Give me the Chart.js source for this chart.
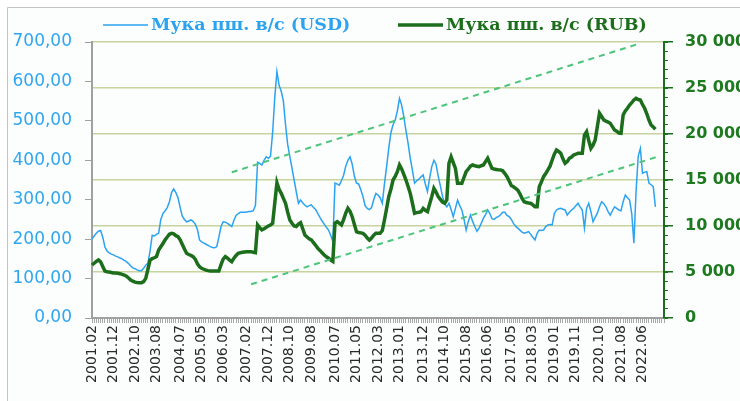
<!DOCTYPE html>
<html>
<head>
<meta charset="utf-8">
<script src="https://cdn.jsdelivr.net/npm/chart.js@4.4.1/dist/chart.umd.min.js"></script>
<style>
  html, body { margin: 0; padding: 0; background: #fff; }
  #wrap { width: 740px; height: 401px; }
</style>
</head>
<body>
<div id="wrap"><canvas id="flourChart" width="740" height="401"></canvas></div>
<script>
// monthly series, first point 2001.02
const startYear = 2001;
const startMonth = 2;
const monthCount = 267; // axis runs to 2023.04

const tickLabels = ["2001.02", "2001.12", "2002.10", "2003.08", "2004.07", "2005.05", "2006.03",
  "2007.02", "2007.12", "2008.10", "2009.08", "2010.07", "2011.05", "2012.03", "2013.01",
  "2013.12", "2014.10", "2015.08", "2016.06", "2017.05", "2018.03", "2019.01", "2019.11",
  "2020.10", "2021.08", "2022.06"];

const usdPrices = [
  200, 208, 215, 220, 222, 205, 180, 170, 165, 162, 160,
  157, 155, 152, 150, 146, 143, 138, 132, 127, 125, 122, 120,
  120, 126, 134, 139, 170, 210, 208, 212, 215, 250, 265, 272,
  280, 295, 318, 327, 318, 305, 280, 258, 250, 244, 246, 249,
  245, 238, 225, 198, 193, 190, 187, 184, 181, 179, 178, 181,
  205, 232, 244, 243, 240, 236, 232, 248, 260, 265, 268, 268,
  268, 269, 270, 270, 272, 285, 395, 392, 388, 400, 409, 405,
  410, 470, 560, 625, 590, 575, 550, 490, 440, 409, 380, 350,
  320, 291, 299, 292, 286, 282, 285, 287, 280, 275, 265, 255,
  246, 238, 230, 223, 210, 194, 342, 340, 337, 348, 362, 385,
  400, 409, 390, 360, 342, 340, 325, 308, 285, 278, 275, 280,
  300, 316, 312, 305, 291, 340, 384, 430, 470, 490, 502, 525,
  557, 540, 511, 475, 443, 405, 375, 342, 348, 352, 358, 363,
  340, 321, 355, 384, 400, 390, 360, 335, 308, 290, 282, 291,
  275, 257, 278, 299, 285, 274, 250, 223, 245, 261, 245, 232,
  220, 228, 240, 253, 262, 274, 265, 252, 250, 255, 257, 262,
  268, 268, 260, 257, 250, 240, 233, 228, 223, 218, 215, 217,
  219, 212, 205, 198, 215, 223, 222, 223, 232, 236, 237, 236,
  265, 274, 277, 278, 276, 274, 261, 268, 274, 278, 285, 291,
  282, 274, 228, 278, 291, 270, 244, 255, 266, 282, 295, 290,
  282, 270, 261, 272, 282, 278, 274, 272, 295, 312, 305, 299,
  265, 190, 320, 410, 430, 367, 370, 371, 342, 338, 333, 282
];

const rubPrices = [
  5760, 5950, 6150, 6300, 6100, 5600, 5100, 5030, 5000, 4950, 4900,
  4880, 4860, 4820, 4750, 4670, 4550, 4350, 4130, 4000, 3900, 3850, 3840,
  3840, 3950, 4310, 5300, 6300, 6450, 6550, 6670, 7400, 7750, 8100, 8500,
  8800, 9100, 9200, 9150, 8950, 8840, 8500, 8000, 7500, 7030, 6900, 6800,
  6670, 6400, 5900, 5580, 5400, 5300, 5200, 5150, 5110, 5100, 5110, 5110,
  5110, 5800, 6400, 6670, 6500, 6300, 6120, 6500, 6800, 7030, 7100, 7150,
  7180, 7210, 7210, 7210, 7150, 7100, 10110, 9800, 9570, 9700, 9850, 10000,
  10110, 10290, 12500, 14710, 14000, 13550, 13000, 12470, 11500, 10650, 10300, 10000,
  9950, 10200, 10360, 9700, 9020, 8800, 8600, 8480, 8200, 7900, 7570, 7350,
  7100, 6850, 6650, 6500, 6300, 6150, 10300, 10470, 10300, 10110, 10700, 11400,
  11920, 11600, 11010, 10200, 9380, 9300, 9250, 9200, 9000, 8700, 8480, 8700,
  9000, 9200, 9200, 9200, 9500, 10650, 11900, 13190, 14000, 15000, 15400, 15900,
  16630, 16200, 15600, 15000, 14300, 13550, 12500, 11380, 11450, 11500, 11560, 11920,
  11700, 11560, 12400, 13190, 14100, 13700, 13190, 12900, 12600, 12470, 12830, 16820,
  17530, 16900, 16270, 14640, 14640, 14640, 15300, 15900, 16200, 16500, 16630, 16550,
  16500, 16450, 16550, 16630, 17000, 17360, 16800, 16270, 16200, 16150, 16100, 16090,
  16000, 15700, 15360, 14900, 14400, 14270, 14100, 13910, 13500, 13000, 12640, 12550,
  12500, 12470, 12300, 12100, 12100, 14270, 14800, 15360, 15700, 16090, 16500, 17170,
  17800, 18260, 18100, 17900, 17300, 16820, 17000, 17360, 17500, 17720, 17800, 17900,
  17900, 17900, 19890, 20250, 19300, 18450, 18800, 19350, 20800, 22250, 21900, 21520,
  21400, 21300, 21160, 20800, 20440, 20300, 20100, 20080, 22070, 22500, 22800, 23150,
  23400, 23700, 23880, 23750, 23700, 23200, 22800, 22200, 21520, 20980, 20750, 20510
];

// dashed channel lines (RUB axis)
const upperTrend = [["2006.07", 15840], ["2022.05", 29860]];
const lowerTrend = [["2007.04", 3660], ["2023.01", 17530]];

const usdColor = "#2ba3f0";
const rubColor = "#1c6e1c";
const trendColor = "#4cc47a";

const monthLabels = [];
for (let i = 0; i < monthCount; i++) {
  const m = startMonth - 1 + i;
  const y = startYear + Math.floor(m / 12);
  const mm = (m % 12) + 1;
  monthLabels.push(y + "." + (mm < 10 ? "0" + mm : mm));
}

function toPoints(pairs) {
  return pairs.map((p) => ({ x: p[0], y: p[1] }));
}

const framePlugin = {
  id: "frame",
  beforeDraw(chart) {
    const ctx = chart.ctx;
    ctx.save();
    ctx.fillStyle = "#ffffff";
    ctx.fillRect(0, 0, chart.width, chart.height);
    ctx.fillStyle = "#fcfdfd";
    ctx.fillRect(8, 8, chart.width - 8, chart.height - 8);
    ctx.strokeStyle = "#c4c4c4";
    ctx.lineWidth = 1;
    ctx.beginPath();
    ctx.moveTo(7.5, chart.height);
    ctx.lineTo(7.5, 7.5);
    ctx.lineTo(chart.width, 7.5);
    ctx.stroke();
    ctx.restore();
  }
};

// legend drawn by hand: line sample + bold label
const legendPlugin = {
  id: "lineLegend",
  afterDraw(chart) {
    const ctx = chart.ctx;
    const items = [{ ds: 0, x: 103 }, { ds: 1, x: 398 }];
    ctx.save();
    ctx.font = "bold 17.5px 'DejaVu Serif'";
    ctx.textBaseline = "middle";
    items.forEach((it) => {
      const ds = chart.data.datasets[it.ds];
      ctx.strokeStyle = ds.borderColor;
      ctx.lineWidth = ds.borderWidth;
      ctx.beginPath();
      ctx.moveTo(it.x, 25);
      ctx.lineTo(it.x + 45, 25);
      ctx.stroke();
      ctx.fillStyle = ds.borderColor;
      ctx.fillText(ds.label, it.x + 48, 25);
    });
    ctx.restore();
  }
};

const ctx = document.getElementById("flourChart").getContext("2d");

const chart = new Chart(ctx, {
  type: "line",
  data: {
    labels: monthLabels,
    datasets: [
      {
        label: "Мука пш. в/с (USD)",
        data: usdPrices,
        yAxisID: "y",
        borderColor: usdColor,
        borderWidth: 1.5,
        order: 2
      },
      {
        label: "Мука пш. в/с (RUB)",
        data: rubPrices,
        yAxisID: "y2",
        borderColor: rubColor,
        borderWidth: 3.5,
        order: 1
      },
      {
        label: "upper",
        data: toPoints(upperTrend),
        yAxisID: "y2",
        borderColor: trendColor,
        borderWidth: 2,
        borderDash: [6, 5],
        order: 0
      },
      {
        label: "lower",
        data: toPoints(lowerTrend),
        yAxisID: "y2",
        borderColor: trendColor,
        borderWidth: 2,
        borderDash: [6, 5],
        order: 0
      }
    ]
  },
  options: {
    responsive: false,
    animation: false,
    devicePixelRatio: 1,
    events: [],
    layout: { padding: { top: 42, left: 0, right: 0, bottom: 0 } },
    elements: {
      point: { radius: 0 },
      line: { tension: 0, fill: false }
    },
    plugins: {
      legend: { display: false },
      tooltip: { enabled: false }
    },
    scales: {
      x: {
        type: "category",
        position: "bottom",
        afterFit(scale) { scale.height = 83; },
        grid: {
          drawOnChartArea: false,
          tickLength: 5,
          color: "#a8a8a8"
        },
        border: { color: "#a0a0a0", width: 2 },
        ticks: {
          autoSkip: false,
          minRotation: 90,
          maxRotation: 90,
          padding: 2,
          color: "#2a2a2a",
          font: { family: "DejaVu Sans", size: 14 },
          callback: function (val) {
            const lab = this.getLabelForValue(val);
            return tickLabels.includes(lab) ? lab : "";
          }
        }
      },
      y: {
        position: "left",
        min: 0,
        max: 700,
        afterFit(scale) { scale.width = 92; },
        grid: {
          drawOnChartArea: false,
          tickLength: 7,
          color: "#a0a0a0"
        },
        border: { color: "#a0a0a0", width: 2 },
        ticks: {
          stepSize: 100,
          padding: 13,
          color: "#2ea6f0",
          font: { family: "DejaVu Sans", size: 17 },
          callback: (v) => v.toFixed(2).replace(".", ",")
        }
      },
      yMinor: {
        position: "right",
        weight: 0,
        min: 0,
        max: 30000,
        afterFit(scale) { scale.width = 0; },
        grid: {
          drawOnChartArea: false,
          tickLength: 4,
          color: rubColor
        },
        border: { display: false },
        ticks: { display: false, stepSize: 1000, maxTicksLimit: 100 }
      },
      y2: {
        position: "right",
        weight: 1,
        min: 0,
        max: 30000,
        afterFit(scale) { scale.width = 76; },
        grid: {
          drawOnChartArea: true,
          color: "#c8d49f",
          lineWidth: 1.5,
          tickLength: 9,
          tickColor: rubColor
        },
        border: { color: rubColor, width: 2 },
        ticks: {
          stepSize: 5000,
          padding: 12,
          color: "#1e7a1e",
          font: { family: "DejaVu Sans", size: 16, weight: "bold" },
          callback: (v) => String(v).replace(/\B(?=(\d{3})+(?!\d))/g, " ")
        }
      }
    }
  },
  plugins: [framePlugin, legendPlugin]
});
</script>
</body>
</html>
